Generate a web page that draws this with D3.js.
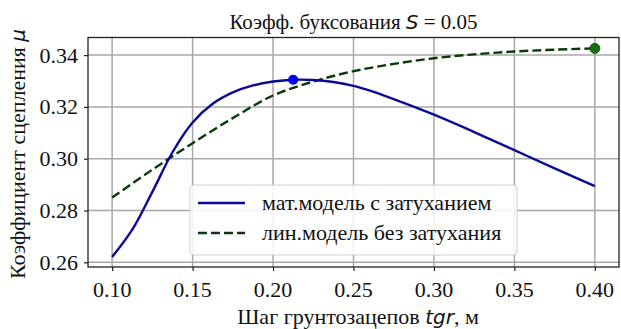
<!DOCTYPE html>
<html><head><meta charset="utf-8"><script src="https://cdn.jsdelivr.net/npm/d3@7"></script></head>
<body style="margin:0">
<script>
// Step of the grousers, m
const tgrDamped = [0.10, 0.1125, 0.125, 0.1375, 0.15, 0.1625, 0.175, 0.1875, 0.20, 0.2125, 0.225, 0.2375, 0.25, 0.2625, 0.275, 0.30, 0.325, 0.35, 0.375, 0.40];
// Traction coefficient, model with damping
const muDamped  = [0.2621, 0.2726, 0.2872, 0.3025, 0.3140, 0.3212, 0.3256, 0.3283, 0.3298, 0.3305, 0.3304, 0.3296, 0.3281, 0.3258, 0.3230, 0.3170, 0.3103, 0.3033, 0.2963, 0.2894];

const tgrLinear = [0.10, 0.125, 0.15, 0.175, 0.20, 0.225, 0.25, 0.275, 0.30, 0.325, 0.35, 0.375, 0.40];
// Traction coefficient, linear model without damping
const muLinear  = [0.2850, 0.2958, 0.3060, 0.3157, 0.3244, 0.3298, 0.3338, 0.3366, 0.3388, 0.3403, 0.3414, 0.3421, 0.3426];

// Highlighted points
const peakDamped = { x: 0.2125, y: 0.3305 };
const peakLinear = { x: 0.40, y: 0.3426 };

const xTicks = [0.10, 0.15, 0.20, 0.25, 0.30, 0.35, 0.40];
const yTicks = [0.26, 0.28, 0.30, 0.32, 0.34];

const legendLabels = ["мат.модель с затуханием", "лин.модель без затухания"];

const W = 621, H = 329;
const plot = { left: 88, right: 619, top: 37.5, bottom: 267 };

const SERIF = '"Liberation Serif", "Times New Roman", Tinos, Times, serif';
const MATH = '"DejaVu Sans", sans-serif';

const colDamped = "#0a0a96";
const colLinear = "#063a06";

const svg = d3.select("body").append("svg").attr("width", W).attr("height", H)
  .attr("font-family", SERIF);

const x = d3.scaleLinear().domain([0.085, 0.415]).range([plot.left, plot.right]);
const y = d3.scaleLinear().domain([0.2582, 0.3468]).range([plot.bottom, plot.top]);

// serif text helper
function label(parent, size) {
  return parent.append("text")
    .attr("font-family", SERIF)
    .style("font-family", SERIF, "important")
    .style("font-size", size + "px")
    .attr("fill", "#111");
}
function mathSpan(parent, size, txt) {
  return parent.append("tspan")
    .attr("font-family", MATH)
    .style("font-family", MATH, "important")
    .style("font-style", "italic")
    .style("font-size", size + "px")
    .text(txt);
}

// grid
const grid = svg.append("g").attr("stroke", "#a8a8a8").attr("stroke-width", 1.5);
xTicks.forEach(t => grid.append("line")
  .attr("x1", x(t)).attr("x2", x(t)).attr("y1", plot.top).attr("y2", plot.bottom));
yTicks.forEach(t => grid.append("line")
  .attr("x1", plot.left).attr("x2", plot.right).attr("y1", y(t)).attr("y2", y(t)));

// tick marks from d3 axes, labels drawn below
const gx = svg.append("g").attr("transform", `translate(0,${plot.bottom})`)
  .call(d3.axisBottom(x).tickValues(xTicks).tickFormat("").tickSize(4));
const gy = svg.append("g").attr("transform", `translate(${plot.left},0)`)
  .call(d3.axisLeft(y).tickValues(yTicks).tickFormat("").tickSize(4));
[gx, gy].forEach(g => {
  g.select(".domain").remove();
  g.selectAll(".tick line").attr("stroke", "#222").attr("stroke-width", 1.2);
  g.selectAll(".tick text").remove();
});

const fmt = d3.format(".2f");
xTicks.forEach(t => label(svg, 22).attr("x", x(t)).attr("y", plot.bottom + 30)
  .attr("text-anchor", "middle").text(fmt(t)));
yTicks.forEach(t => label(svg, 22).attr("x", plot.left - 10).attr("y", y(t) + 7.5)
  .attr("text-anchor", "end").text(fmt(t)));

// frame
svg.append("rect")
  .attr("x", plot.left).attr("y", plot.top)
  .attr("width", plot.right - plot.left).attr("height", plot.bottom - plot.top)
  .attr("fill", "none").attr("stroke", "#222").attr("stroke-width", 1.3);

svg.append("clipPath").attr("id", "clip").append("rect")
  .attr("x", plot.left).attr("y", plot.top)
  .attr("width", plot.right - plot.left).attr("height", plot.bottom - plot.top);

const line = d3.line().x(d => x(d[0])).y(d => y(d[1])).curve(d3.curveCatmullRom.alpha(0.5));

const series = svg.append("g").attr("clip-path", "url(#clip)");
series.append("path")
  .attr("d", line(d3.zip(tgrLinear, muLinear)))
  .attr("fill", "none").attr("stroke", colLinear).attr("stroke-width", 2.4)
  .attr("stroke-dasharray", "9,4");
series.append("path")
  .attr("d", line(d3.zip(tgrDamped, muDamped)))
  .attr("fill", "none").attr("stroke", colDamped).attr("stroke-width", 2.4);

series.append("circle").attr("cx", x(peakDamped.x)).attr("cy", y(peakDamped.y))
  .attr("r", 5).attr("fill", "#0000ff");
series.append("circle").attr("cx", x(peakLinear.x)).attr("cy", y(peakLinear.y))
  .attr("r", 5).attr("fill", "#157015").attr("stroke", "#0b3d0b").attr("stroke-width", 0.8);

// legend
const lg = svg.append("g").attr("transform", "translate(190,185)");
lg.append("rect").attr("width", 327).attr("height", 70).attr("rx", 4)
  .attr("fill", "#fff").attr("fill-opacity", 0.85)
  .attr("stroke", "#d0d0d0").attr("stroke-width", 1);
const legendStyles = [
  { stroke: colDamped, dash: null },
  { stroke: colLinear, dash: "9,4" }
];
legendLabels.forEach((lab, i) => {
  const cy = 18 + i * 30;
  lg.append("line").attr("x1", 8).attr("x2", 55).attr("y1", cy).attr("y2", cy)
    .attr("stroke", legendStyles[i].stroke).attr("stroke-width", 2.4)
    .attr("stroke-dasharray", legendStyles[i].dash);
  label(lg, 22).attr("x", 72).attr("y", cy + 7).text(lab);
});

// title
const title = label(svg, 21)
  .attr("x", (plot.left + plot.right) / 2).attr("y", 29)
  .attr("text-anchor", "middle");
title.append("tspan").text("Коэфф. буксования ");
mathSpan(title, 20, "S");
title.append("tspan").text(" = 0.05");

// x label
const xl = label(svg, 22).attr("x", 358).attr("y", 324).attr("text-anchor", "middle");
xl.append("tspan").text("Шаг грунтозацепов ");
mathSpan(xl, 20, "tgr");
xl.append("tspan").text(", м");

// y label
const yl = label(svg, 22)
  .attr("transform", "translate(25,154) rotate(-90)")
  .attr("text-anchor", "middle");
yl.append("tspan").text("Коэффициент сцепления ");
mathSpan(yl, 20, "μ");
</script>
</body>
</html>
